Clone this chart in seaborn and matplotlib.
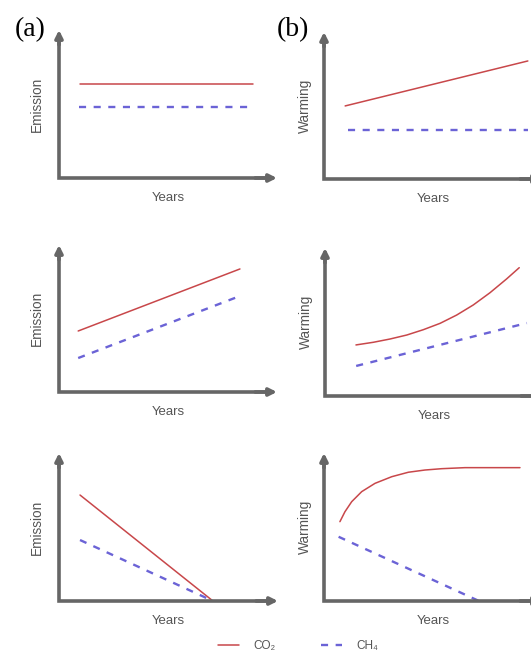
import matplotlib
matplotlib.use("Agg")
import matplotlib.pyplot as plt
from matplotlib.lines import Line2D
import seaborn as sns
import numpy as np
import pandas as pd

sns.set_theme(style="white")
plt.rcParams['font.family'] = ['Liberation Sans', 'DejaVu Sans']

# ---- data (x: years, arbitrary units 0..10; y: value, arbitrary 0..10) ----
# Row 1 (constant emissions)
a1_co2_x = [0.97, 8.9];   a1_co2_y = [6.35, 6.35]
a1_ch4_x = [0.92, 8.9];   a1_ch4_y = [4.8, 4.8]
b1_co2_x = [0.97, 9.35];  b1_co2_y = [4.97, 8.03]
b1_ch4_x = [1.1, 9.35];   b1_ch4_y = [3.33, 3.33]
# Row 2 (rising emissions)
a2_co2_x = [0.88, 8.3];   a2_co2_y = [4.15, 8.37]
a2_ch4_x = [0.88, 8.3];   a2_ch4_y = [2.31, 6.53]
b2_co2_x = [1.42, 2.22, 2.98, 3.75, 4.51, 5.28, 6.04, 6.80, 7.57, 8.33, 8.91]
b2_co2_y = [3.45, 3.63, 3.85, 4.12, 4.48, 4.91, 5.47, 6.15, 6.98, 7.91, 8.67]
b2_ch4_x = [1.43, 9.26];  b2_ch4_y = [2.03, 4.93]
# Row 3 (falling emissions)
a3_co2_x = [0.96, 7.03];  a3_co2_y = [7.16, 0.0]
a3_ch4_x = [0.96, 7.03];  a3_ch4_y = [4.12, 0.0]
b3_co2_x = [0.73, 0.96, 1.27, 1.73, 2.34, 3.11, 3.87, 4.63, 5.40, 6.47, 7.69, 8.99]
b3_co2_y = [5.36, 6.03, 6.71, 7.39, 7.95, 8.40, 8.70, 8.85, 8.94, 9.01, 9.01, 9.01]
b3_ch4_x = [0.67, 7.11];  b3_ch4_y = [4.34, 0.0]

ylabels = ["Emission", "Warming"]
xlabel = "Years"
panel_labels = ["(a)", "(b)"]
legend_labels = ["CO\u2082", "CH\u2084"]

RED = "#c8474a"
BLUE = "#6b63d6"
AXC = "#666666"
TXT = "#555555"

W, H = 531, 655
fig = plt.figure(figsize=(W / 100, H / 100), dpi=100)

def add_ax(left, bottom_y, right, top_y):
    return fig.add_axes([left / W, 1 - bottom_y / H, (right - left) / W, (bottom_y - top_y) / H])

specs = [
    (add_ax(59, 178, 277, 30), (a1_co2_x, a1_co2_y), (a1_ch4_x, a1_ch4_y), 0),
    (add_ax(324, 179, 542, 32), (b1_co2_x, b1_co2_y), (b1_ch4_x, b1_ch4_y), 1),
    (add_ax(59, 392, 277, 245), (a2_co2_x, a2_co2_y), (a2_ch4_x, a2_ch4_y), 0),
    (add_ax(325, 396, 543, 248), (b2_co2_x, b2_co2_y), (b2_ch4_x, b2_ch4_y), 1),
    (add_ax(59, 601, 278, 453), (a3_co2_x, a3_co2_y), (a3_ch4_x, a3_ch4_y), 0),
    (add_ax(324, 601, 542, 453), (b3_co2_x, b3_co2_y), (b3_ch4_x, b3_ch4_y), 1),
]

handles = None
for ax, co2, ch4, col in specs:
    sns.lineplot(x=co2[0], y=co2[1], ax=ax, color=RED, lw=1.1, label=legend_labels[0])
    sns.lineplot(x=ch4[0], y=ch4[1], ax=ax, color=BLUE, lw=1.7,
                 linestyle=(0, (3.0, 3.2)), label=legend_labels[1])
    if handles is None:
        handles, labs = ax.get_legend_handles_labels()
    ax.get_legend().remove()
    ax.set_xlim(0, 10)
    ax.set_ylim(0, 10)
    for s in ax.spines.values():
        s.set_visible(False)
    ax.set_xticks([]); ax.set_yticks([])
    ax.set_xlabel(""); ax.set_ylabel("")
    ax.patch.set_alpha(0)
    # L-shaped axis lines
    ax.add_line(Line2D([0, 0, 0.96], [0.95, 0, 0], transform=ax.transAxes, color=AXC,
                       lw=2.6, solid_joinstyle='miter', solid_capstyle='butt', clip_on=False))
    arrow = dict(arrowstyle='-|>', color=AXC, lw=2.6, mutation_scale=11,
                 shrinkA=0, shrinkB=0)
    ax.annotate("", xy=(1, 0), xytext=(0.9, 0), xycoords='axes fraction',
                arrowprops=arrow, annotation_clip=False)
    ax.annotate("", xy=(0, 1), xytext=(0, 0.9), xycoords='axes fraction',
                arrowprops=arrow, annotation_clip=False)
    off = 22 if col == 0 else 19
    ax.text(-off / (ax.get_position().width * W), 0.5, ylabels[col], rotation=90,
            transform=ax.transAxes, ha='center', va='center', fontsize=9.8, color=TXT)
    ax.text(0.5, -20 / (ax.get_position().height * H), xlabel,
            transform=ax.transAxes, ha='center', va='center', fontsize=9.5, color=TXT)

fig.text(30 / W, 1 - 30 / H, panel_labels[0], ha='center', va='center', fontsize=20,
         family=['Liberation Serif', 'DejaVu Serif'], color='black')
fig.text(293 / W, 1 - 30 / H, panel_labels[1], ha='center', va='center', fontsize=20,
         family=['Liberation Serif', 'DejaVu Serif'], color='black')

leg = fig.legend(handles, legend_labels, loc='center', bbox_to_anchor=(298 / W, 1 - 646 / H),
                 ncol=2, frameon=False, fontsize=8.5, labelcolor=TXT, handlelength=1.8,
                 columnspacing=3.8, handletextpad=1.2, borderpad=0.2)

fig.savefig("out.png", dpi=100)
